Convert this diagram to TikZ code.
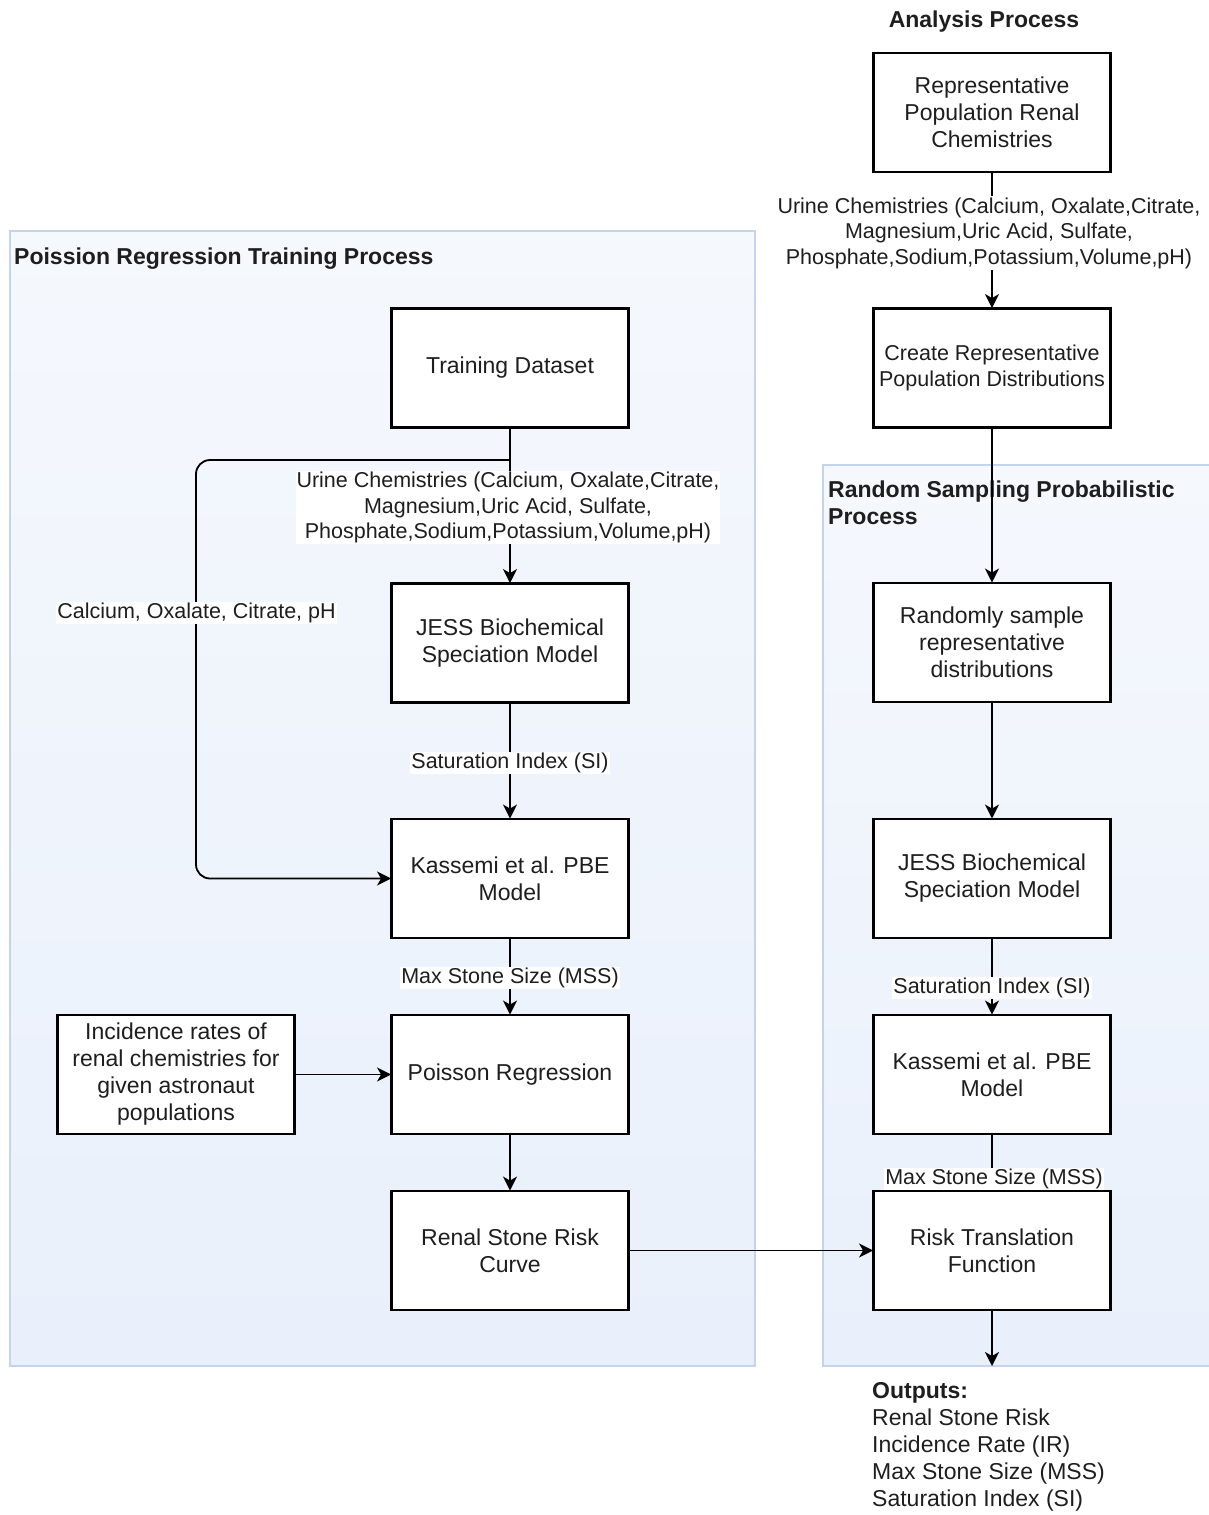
\documentclass[tikz,border=0pt]{standalone}
\usepackage{fontspec}
\setmainfont{Liberation Sans}
\usetikzlibrary{arrows.meta}
\definecolor{contA}{HTML}{F5F8FD}
\definecolor{contB}{HTML}{E9F0FB}
\definecolor{contline}{HTML}{C4D4EC}
\definecolor{txt}{HTML}{1E1E1E}
\begin{document}
\begin{tikzpicture}[x=1pt,y=-1pt,
  procbox/.style={draw=black, line width=1.9pt, fill=white, minimum width=236pt, minimum height=118pt,
    align=center, inner sep=0pt, text=txt, font=\fontsize{23}{27}\selectfont},
  lbl/.style={fill=white, inner sep=1pt, align=center, text=txt, font=\fontsize{21.5}{25.5}\selectfont},
  conn/.style={line width=1.8pt, -{Stealth[length=14pt,width=14pt,inset=4pt]}},
  ctitle/.style={font=\bfseries\fontsize{23}{27}\selectfont, align=left, inner sep=0pt, text=txt},
  contbox/.style={top color=contA, bottom color=contB, draw=contline, line width=1.8pt}]
\useasboundingbox (0,0) rectangle (1209,1515);

% containers
\path[contbox] (10,231) rectangle (755,1366);
\path[contbox] (823,465) rectangle (1214,1366);
\node[ctitle, anchor=west] (tleft) at (14,259) {Poission Regression Training Process};
\node[ctitle, anchor=north west] (tright) at (828,481) {Random Sampling Probabilistic\\Process};
\node[ctitle] (tana) at (984,22) {Analysis Process};

% left column boxes
\node[procbox] (td) at (510,368) {Training Dataset};
\node[procbox] (jl) at (510,643) {JESS Biochemical\\Speciation Model};
\node[procbox] (kl) at (510,878.5) {Kassemi et al. PBE\\Model};
\node[procbox] (pr) at (510,1074.5) {Poisson Regression};
\node[procbox] (ir) at (176,1074.5) {Incidence rates of\\renal chemistries for\\given astronaut\\populations};
\node[procbox] (rc) at (510,1250.5) {Renal Stone Risk\\Curve};

% right column boxes
\node[procbox] (rp) at (992,112.5) {Representative\\Population Renal\\Chemistries};
\node[procbox, font=\fontsize{21.5}{26}\selectfont] (cr) at (992,368) {Create Representative\\Population Distributions};
\node[procbox] (rs) at (992,642.5) {Randomly sample\\representative\\distributions};
\node[procbox] (jr) at (992,878.5) {JESS Biochemical\\Speciation Model};
\node[procbox] (kr) at (992,1074.5) {Kassemi et al. PBE\\Model};
\node[procbox] (rt) at (992,1250.5) {Risk Translation\\Function};

\coordinate (br) at (510,460);
\coordinate (outend) at (992,1366);

% connectors
\draw[conn] (td.south) -- (jl.north);
\draw[conn, rounded corners=14pt] (br) -- (196,460) |- (kl.west);
\draw[conn] (jl.south) -- (kl.north);
\draw[conn] (kl.south) -- (pr.north);
\draw[conn] (ir.east) -- (pr.west);
\draw[conn] (pr.south) -- (rc.north);
\draw[conn] (rc.east) -- (rt.west);
\draw[conn] (rp.south) -- (cr.north);
\draw[conn] (cr.south) -- (rs.north);
\draw[conn] (rs.south) -- (jr.north);
\draw[conn] (jr.south) -- (kr.north);
\draw[conn] (kr.south) -- (rt.north);
\draw[conn] (rt.south) -- (outend);

% redraw box borders over arrow lines
\foreach \n in {td,jl,kl,pr,ir,rc,rp,cr,rs,jr,kr,rt} {\draw[line width=1.9pt] (\n.north west) rectangle (\n.south east);}

% labels
\node[lbl] (l1) at (508,507.5) {Urine Chemistries (Calcium, Oxalate,Citrate,\\Magnesium,Uric Acid, Sulfate,\\Phosphate,Sodium,Potassium,Volume,pH)};
\node[lbl] (l2) at (196.5,613) {Calcium, Oxalate, Citrate, pH};
\node[lbl] (l3) at (510,763) {Saturation Index (SI)};
\node[lbl] (l4) at (510,978) {Max Stone Size (MSS)};
\node[lbl] (l5) at (989,233) {Urine Chemistries (Calcium, Oxalate,Citrate,\\Magnesium,Uric Acid, Sulfate,\\Phosphate,Sodium,Potassium,Volume,pH)};
\node[lbl] (l6) at (992,988) {Saturation Index (SI)};
\node[lbl] (l7) at (994,1179) {Max Stone Size (MSS)};

% outputs
\node[anchor=north west, align=left, inner sep=0pt, text=txt, font=\fontsize{23}{27}\selectfont] (outs) at (872,1382)
  {\textbf{Outputs:}\\Renal Stone Risk\\Incidence Rate (IR)\\Max Stone Size (MSS)\\Saturation Index (SI)};
\end{tikzpicture}
\end{document}
